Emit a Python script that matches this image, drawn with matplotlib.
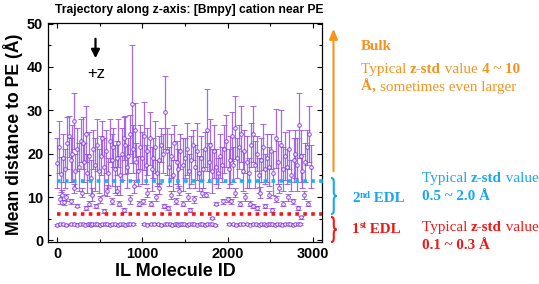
import matplotlib
matplotlib.use("Agg")
import matplotlib.pyplot as plt
from matplotlib.path import Path
from matplotlib.patches import PathPatch, FancyArrowPatch
from matplotlib.ticker import MultipleLocator

# ---------------- data ----------------
bulk_id = [0, 20, 45, 70, 95, 120, 137, 160, 180, 196, 215, 240, 260, 280, 305, 320, 336, 355, 380, 400,
           420, 445, 473, 490, 510, 530, 555, 575, 600, 618, 640, 660, 680, 700, 720, 740, 760, 780, 795, 815,
           835, 855, 877, 895, 912, 930, 950, 975, 995, 1016, 1040, 1060, 1088, 1110, 1130, 1150, 1175, 1195, 1215, 1240,
           1263, 1290, 1310, 1330, 1355, 1375, 1400, 1420, 1445, 1470, 1495, 1520, 1545, 1570, 1595, 1615, 1634, 1660, 1685, 1710,
           1730, 1753, 1775, 1795, 1815, 1837, 1860, 1885, 1910, 1935, 1960, 1985, 2010, 2030, 2048, 2065, 2083, 2105, 2130, 2151,
           2175, 2195, 2220, 2245, 2270, 2295, 2320, 2345, 2370, 2390, 2412, 2435, 2460, 2485, 2510, 2535, 2564, 2590, 2622, 2645,
           2670, 2695, 2720, 2745, 2770, 2790, 2810, 2832, 2855, 2875, 2900, 2925, 2953, 2975]
bulk_mean = [17.8, 21.5, 15.2, 19.0, 16.5, 22.5, 24.0, 18.5, 20.0, 27.5, 16.0, 21.0, 17.0, 23.0, 22.5, 18.0, 24.5, 15.5, 19.5, 14.5,
             21.0, 17.5, 22.0, 16.0, 19.5, 23.5, 17.0, 20.5, 15.5, 23.0, 18.5, 21.5, 16.5, 19.0, 22.5, 15.0, 20.0, 23.5, 22.0, 17.0,
             19.5, 24.5, 31.4, 21.0, 25.5, 18.0, 16.0, 21.5, 19.0, 24.0, 17.5, 20.5, 23.5, 16.5, 19.0, 21.5, 15.5, 18.5, 22.0, 20.0,
             29.5, 20.5, 17.0, 19.5, 15.0, 22.5, 18.0, 16.5, 20.5, 17.5, 19.0, 21.0, 16.0, 18.5, 22.0, 17.0, 20.5, 15.5, 19.0, 16.5,
             21.0, 25.5, 18.0, 22.0, 16.0, 20.5, 17.0, 15.5, 19.5, 17.5, 21.0, 23.0, 16.5, 18.5, 24.0, 17.5, 26.0, 19.0, 21.5, 24.5,
             16.0, 20.5, 18.0, 15.5, 22.0, 24.5, 17.5, 20.0, 15.0, 18.5, 21.5, 16.5, 19.0, 17.0, 20.5, 15.5, 23.5, 18.0, 22.0, 16.5,
             19.5, 17.0, 21.0, 15.0, 18.5, 20.0, 17.5, 26.5, 19.5, 16.0, 18.0, 21.5, 24.5, 17.0]
bulk_std = [5.8, 6.0, 4.0, 5.5, 4.5, 6.0, 4.7, 5.0, 6.5, 6.4, 4.0, 5.0, 5.5, 5.0, 6.0, 4.5, 6.5, 4.5, 5.5, 4.0,
            4.5, 6.0, 6.0, 5.0, 4.5, 4.0, 6.5, 5.0, 3.5, 5.0, 6.0, 4.5, 5.5, 4.0, 5.5, 4.5, 6.0, 5.0, 6.7, 5.0,
            4.0, 4.5, 13.6, 5.5, 6.2, 4.5, 3.5, 5.0, 6.0, 7.8, 4.5, 5.5, 6.2, 5.0, 4.5, 6.0, 3.0, 5.5, 4.0, 4.5,
            8.4, 5.5, 4.5, 5.0, 3.5, 4.0, 5.0, 4.5, 4.0, 6.0, 4.5, 6.0, 4.0, 5.5, 3.5, 5.0, 6.5, 4.0, 5.0, 4.5,
            4.0, 9.5, 4.5, 6.0, 5.0, 6.1, 4.0, 3.5, 5.0, 4.0, 5.5, 6.0, 4.5, 5.5, 5.6, 4.0, 7.3, 4.5, 5.0, 6.5,
            4.5, 5.0, 6.0, 3.5, 5.0, 6.5, 5.5, 4.0, 4.0, 5.0, 5.3, 3.5, 5.5, 4.5, 4.0, 5.0, 6.9, 5.0, 8.0, 5.0,
            5.5, 4.0, 4.5, 3.5, 5.0, 5.5, 6.0, 7.5, 6.0, 4.0, 4.5, 4.0, 6.5, 5.0]

edl2_id = [30, 55, 85, 110, 170, 205, 235, 290, 345, 375, 410, 455, 500, 545, 590, 650, 700, 730, 790, 860,
           905, 960, 1010, 1050, 1100, 1160, 1200, 1250, 1300, 1340, 1390, 1430, 1480, 1530, 1560, 1600, 1700, 1750, 1820, 1860,
           1950, 2000, 2040, 2090, 2140, 2200, 2260, 2300, 2340, 2380, 2440, 2480, 2520, 2560, 2600, 2650, 2700, 2760, 2820, 2860,
           2890, 2940]
edl2_mean = [9.5, 10.5, 8.8, 10.0, 9.0, 12.0, 8.0, 11.0, 7.5, 8.5, 10.5, 8.0, 9.5, 6.8, 11.5, 9.0, 11.5, 8.5, 7.0, 9.5,
             12.5, 8.5, 9.0, 11.0, 8.5, 10.0, 12.0, 8.0, 7.5, 10.5, 9.0, 11.5, 8.5, 10.0, 7.0, 9.5, 11.0, 10.5, 5.2, 8.5,
             9.0, 9.5, 9.0, 11.0, 8.5, 10.0, 8.5, 8.0, 7.5, 11.0, 8.0, 10.5, 7.0, 9.5, 12.0, 8.5, 10.0, 9.0, 7.5, 5.3,
             10.5, 8.5]
edl2_std = [1.0, 1.2, 0.6, 0.8, 0.5, 1.0, 0.4, 1.0, 0.4, 0.5, 1.5, 0.5, 0.8, 0.4, 1.2, 0.7, 1.0, 0.5, 0.4, 1.0,
            1.5, 0.6, 0.5, 1.0, 0.5, 0.8, 1.2, 0.5, 0.4, 1.0, 0.7, 1.0, 0.6, 1.0, 0.4, 0.8, 1.0, 0.6, 0.3, 0.4,
            0.5, 0.6, 0.5, 1.0, 0.5, 1.0, 0.5, 0.5, 0.4, 1.2, 0.5, 0.8, 0.4, 0.7, 1.0, 0.6, 0.8, 0.5, 0.4, 0.3,
            1.0, 0.5]

edl1_id = [5, 40, 75, 110, 160, 195, 230, 265, 300, 330, 360, 385, 400, 415, 440, 470, 500, 530, 560, 590,
           620, 650, 680, 710, 740, 770, 800, 830, 860, 885, 1020, 1060, 1100, 1140, 1180, 1220, 1260, 1290, 1320, 1350,
           1380, 1400, 1420, 1440, 1460, 1490, 1520, 1550, 1580, 1610, 1640, 1670, 1700, 1730, 1760, 1790, 1820, 1850, 2020, 2060,
           2100, 2140, 2180, 2220, 2260, 2300, 2330, 2360, 2390, 2420, 2450, 2470, 2500, 2520, 2550, 2580, 2610, 2640, 2670, 2700,
           2730, 2760, 2790, 2820, 2850]
edl1_mean = [3.6, 3.7, 3.7, 3.6, 3.7, 3.8, 3.6, 3.7, 3.7, 3.6, 3.8, 3.7, 3.6, 3.7, 3.8, 3.7, 3.6, 3.7, 3.7, 3.8,
             3.6, 3.7, 3.7, 3.6, 3.8, 3.7, 3.6, 3.7, 3.8, 3.7, 3.7, 3.6, 3.7, 3.8, 3.7, 3.6, 3.7, 3.7, 3.8, 3.6,
             3.7, 3.7, 3.6, 3.7, 3.8, 3.7, 3.6, 3.7, 3.7, 3.8, 3.6, 3.7, 3.7, 3.6, 3.8, 3.7, 3.7, 3.6, 3.8, 3.7,
             3.6, 3.7, 3.7, 3.8, 3.6, 3.7, 3.7, 3.6, 3.8, 3.7, 3.6, 3.7, 3.7, 3.8, 3.6, 3.7, 3.7, 3.6, 3.8, 3.7,
             3.7, 3.6, 3.7, 3.8, 3.7]
edl1_std = [0.2, 0.2, 0.15, 0.2, 0.2, 0.25, 0.15, 0.2, 0.2, 0.15, 0.2, 0.3, 0.2, 0.2, 0.15, 0.2, 0.2, 0.25, 0.2, 0.15,
            0.2, 0.2, 0.15, 0.2, 0.2, 0.25, 0.2, 0.15, 0.2, 0.2, 0.2, 0.15, 0.2, 0.2, 0.25, 0.2, 0.15, 0.2, 0.2, 0.2,
            0.15, 0.2, 0.25, 0.2, 0.2, 0.15, 0.2, 0.2, 0.2, 0.25, 0.15, 0.2, 0.2, 0.2, 0.15, 0.2, 0.25, 0.2, 0.2, 0.15,
            0.2, 0.2, 0.25, 0.2, 0.15, 0.2, 0.2, 0.2, 0.15, 0.2, 0.25, 0.2, 0.2, 0.15, 0.2, 0.2, 0.2, 0.25, 0.15, 0.2,
            0.2, 0.2, 0.15, 0.2, 0.2]

edl1_line = 6.0
edl2_line = 13.8

xticks = [0, 1000, 2000, 3000]
yticks = [0, 10, 20, 30, 40, 50]

title = "Trajectory along z-axis: [Bmpy] cation near PE"
xlabel = "IL Molecule ID"
ylabel = "Mean distance to PE (Å)"

# ---------------- figure ----------------
W, H = 539, 284
fig = plt.figure(figsize=(W / 100, H / 100), dpi=100)
ax = fig.add_axes([48 / W, 1 - 241.7 / H, (321.7 - 48) / W, (241.7 - 22.7) / H])

purple = "#9450EC"
purple_dark = "#7A2FE0"
orange = "#F7931E"
cyan = "#1AA7EC"
cyan_line = "#17B4F2"
red = "#F01818"

for ids, m, s in [(bulk_id, bulk_mean, bulk_std), (edl2_id, edl2_mean, edl2_std), (edl1_id, edl1_mean, edl1_std)]:
    ax.errorbar(ids, m, yerr=s, fmt="o", ms=2.6, mfc="white", mec=purple_dark, mew=0.7,
                ecolor=purple, elinewidth=0.9, capsize=2.3, capthick=0.9, alpha=0.85, zorder=2)

ax.plot([0, 3110], [edl2_line, edl2_line], ls=(0, (1, 1.2)), lw=2.6, color=cyan_line, clip_on=False, zorder=3)
ax.plot([0, 3100], [edl1_line, edl1_line], ls=(0, (1, 1.2)), lw=2.6, color=red, clip_on=False, zorder=3)

ax.set_xlim(-105, 3100)
ax.set_ylim(-0.3, 50.2)
ax.set_xticks(xticks)
ax.set_yticks(yticks)
ax.xaxis.set_minor_locator(MultipleLocator(500))
ax.yaxis.set_minor_locator(MultipleLocator(5))
ax.tick_params(which="both", direction="in", top=True, right=True, labelsize=10.4, width=0.8)
ax.tick_params(which="major", length=3.5)
ax.tick_params(which="minor", length=2)
for lab in ax.get_xticklabels() + ax.get_yticklabels():
    lab.set_fontweight("bold")
    lab.set_family("Liberation Sans")
for sp in ax.spines.values():
    sp.set_linewidth(0.9)

fig.text(189 / W, 1 - 10 / H, title, ha="center", va="center", fontsize=8.7, fontweight="bold",
         family="Liberation Sans")
fig.text(175 / W, 1 - 271 / H, xlabel, ha="center", va="center", fontsize=13, fontweight="bold",
         family="Liberation Sans")
fig.text(13 / W, 1 - 134 / H, ylabel, ha="center", va="center", rotation=90, fontsize=12.7,
         fontweight="bold", family="Liberation Sans")

# +z arrow inside plot
fig.patches.append(FancyArrowPatch((95.5 / W, 1 - 36 / H), (95.5 / W, 1 - 61 / H), transform=fig.transFigure,
                                   arrowstyle="-|>,head_length=5,head_width=2.5", lw=1.6, color="black"))
fig.text(96 / W, 1 - 73 / H, "+z", ha="center", va="center", fontsize=12, family="Liberation Sans")

# Bulk orange arrow
fig.patches.append(FancyArrowPatch((333.5 / W, 1 - 174 / H), (333.5 / W, 1 - 26 / H), transform=fig.transFigure,
                                   arrowstyle="-|>,head_length=6,head_width=2.5", lw=1.5, color=orange))


def brace(x, y0, y1, color, w=5.5):
    # y0 top, y1 bottom in pixel coords (from top)
    ym = (y0 + y1) / 2
    P = lambda px, py: (px / W, 1 - py / H)
    verts = [P(x, y0), P(x + w * 0.6, y0), P(x + w * 0.5, y0 + 3), P(x + w * 0.5, y0 + 6),
             P(x + w * 0.5, ym - 4),
             P(x + w * 0.5, ym - 1), P(x + w * 0.8, ym), P(x + w, ym),
             P(x + w * 0.8, ym), P(x + w * 0.5, ym + 1), P(x + w * 0.5, ym + 4),
             P(x + w * 0.5, y1 - 6),
             P(x + w * 0.5, y1 - 3), P(x + w * 0.6, y1), P(x, y1)]
    codes = [Path.MOVETO, Path.CURVE4, Path.CURVE4, Path.CURVE4, Path.LINETO,
             Path.CURVE4, Path.CURVE4, Path.CURVE4,
             Path.CURVE4, Path.CURVE4, Path.CURVE4,
             Path.LINETO,
             Path.CURVE4, Path.CURVE4, Path.CURVE4]
    fig.patches.append(PathPatch(Path(verts, codes), transform=fig.transFigure, fill=False,
                                 edgecolor=color, lw=1.5))


brace(331, 178, 214, cyan)
brace(331, 217, 242, red)

fig.canvas.draw()
renderer = fig.canvas.get_renderer()


def rich(x, y, pieces, color, size=10.9):
    """pieces: list of (text, bold, scale, raise_px)"""
    cx = x
    for txt, bold, scale, rise in pieces:
        t = fig.text(cx / W, 1 - (y - rise) / H, txt, ha="left", va="baseline", color=color,
                     fontsize=size * scale, fontweight="bold" if bold else "normal",
                     family="Liberation Serif")
        bb = t.get_window_extent(renderer)
        cx += bb.width


rich(361, 50, [("Bulk", True, 1, 0)], orange)
rich(361, 73, [("Typical ", False, 1, 0), ("z-std", True, 1, 0), (" value ", False, 1, 0),
               ("4 ~ 10", True, 1, 0)], orange)
rich(361, 91, [("Å, ", True, 1, 0), ("sometimes even larger", False, 1, 0)], orange)

rich(352, 202, [("2", True, 1, 0), ("nd", True, 0.65, 4.5), (" EDL", True, 1, 0)], cyan)
rich(422, 182, [("Typical ", False, 1, 0), ("z-std", True, 1, 0), (" value", False, 1, 0)], cyan)
rich(422, 200, [("0.5 ~ 2.0 Å", True, 1, 0)], cyan)

rich(352, 233, [("1", True, 1, 0), ("st", True, 0.65, 4.5), (" EDL", True, 1, 0)], red)
rich(422, 231, [("Typical ", False, 1, 0), ("z-std", True, 1, 0), (" value", False, 1, 0)], red)
rich(422, 249, [("0.1 ~ 0.3 Å", True, 1, 0)], red)

fig.savefig("out.png", dpi=100)
